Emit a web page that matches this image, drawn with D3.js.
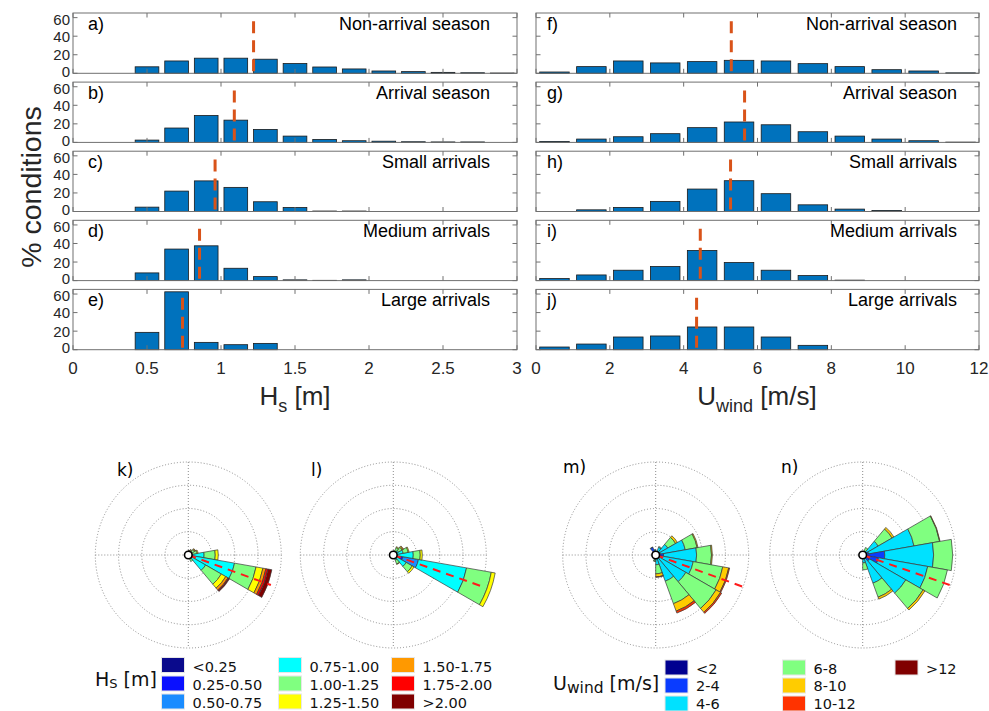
<!DOCTYPE html>
<html>
<head>
<meta charset="utf-8">
<script src="https://cdn.jsdelivr.net/npm/d3@7"></script>
<style>
  body { margin: 0; background: #fff; }
  svg { display: block; }
</style>
</head>
<body>
<div id="chart"></div>
<script>
// ---- histogram data (% conditions per bin) ----
const hsBins = [0.5, 0.7, 0.9, 1.1, 1.3, 1.5, 1.7, 1.9, 2.1, 2.3, 2.5, 2.7, 2.9];
const hsNonArrival = [7, 13.3, 16.3, 16.3, 15.2, 10.5, 6.8, 4.7, 2.5, 1.8, 1, 0.6, 0.3];
const hsArrival    = [2.5, 15.5, 29, 24, 14, 6.8, 3.2, 1.8, 1.3, 0.7, 0.5, 0.5, 0];
const hsSmall      = [4.7, 22, 33, 26, 10.5, 4.3, 0.5, 0.5, 0, 0, 0, 0, 0];
const hsMedium     = [8.3, 34, 37.5, 13.3, 4.3, 0.8, 0.3, 0.8, 0, 0, 0, 0, 0];
const hsLarge      = [18.7, 62.4, 7.9, 5.4, 6.8, 0, 0, 0, 0, 0, 0, 0, 0];
const hsMeans      = [1.22, 1.09, 0.96, 0.855, 0.74];

const uBins = [0.5, 1.5, 2.5, 3.5, 4.5, 5.5, 6.5, 7.5, 8.5, 9.5, 10.5, 11.5];
const uNonArrival = [1.4, 7.2, 13.3, 11.2, 12.6, 14, 13.3, 10.4, 7.2, 3.9, 2.5, 0.5];
const uArrival    = [1, 3.6, 6.1, 9.4, 15.9, 22, 19, 11.5, 6.8, 3.6, 1.8, 0.3];
const uSmall      = [0, 1.8, 4.4, 10.9, 24.2, 33.2, 19.2, 7.2, 2.6, 1.1, 0, 0];
const uMedium     = [2.2, 6.1, 11.2, 15.2, 32.5, 19.5, 11.2, 5.4, 0.5, 0, 0, 0];
const uLarge      = [2.9, 6.1, 13.7, 14.8, 24.5, 24.5, 13.7, 4.7, 0, 0, 0, 0];
const uMeans      = [5.29, 5.65, 5.27, 4.45, 4.35];

const hsLetters = ["a)", "b)", "c)", "d)", "e)"];
const uLetters  = ["f)", "g)", "h)", "i)", "j)"];
const panelTitles = ["Non-arrival season", "Arrival season", "Small arrivals", "Medium arrivals", "Large arrivals"];
const hsTicks = [0, 0.5, 1, 1.5, 2, 2.5, 3];
const uTicks  = [0, 2, 4, 6, 8, 10, 12];
const yTicks  = [0, 20, 40, 60];

// ---- wind rose data: direction (deg, counter-clockwise from east) and stacked bin frequencies (%) ----
const hsRoseLabels = ["<0.25", "0.25-0.50", "0.50-0.75", "0.75-1.00", "1.00-1.25", "1.25-1.50", "1.50-1.75", "1.75-2.00", ">2.00"];
const hsRoseColors = ["#0a0a8c", "#0a10ff", "#1a8cff", "#00ffff", "#80ff80", "#ffff00", "#ff9900", "#ff0000", "#800000"];
const uRoseLabels = ["<2", "2-4", "4-6", "6-8", "8-10", "10-12", ">12"];
const uRoseColors = ["#000090", "#0a3cff", "#00e1ff", "#80ff80", "#ffcc00", "#ff3300", "#800000"];

const kDirs = [0, -20, -40, 20, 40, 60, -60, 80, 100];
const kBins = [
  [0.1, 0.1, 0.1, 3.1, 2.4, 0.65, 0, 0, 0],
  [0.2, 0.2, 0.2, 9.5, 4.7, 1.5, 0.65, 0.45, 0.85],
  [0.1, 0.1, 0.2, 3.9, 3.9, 1.1, 0.55, 0.2, 0.2],
  [0, 0, 0.1, 0.75, 1.1, 0.2, 0, 0, 0],
  [0, 0, 0.1, 0.55, 0.85, 0.2, 0.1, 0, 0],
  [0, 0, 0.1, 0.4, 0.65, 0.1, 0, 0, 0],
  [0, 0, 0.1, 0.75, 0.65, 0, 0, 0, 0],
  [0, 0, 0.1, 0.3, 0.4, 0.1, 0.1, 0, 0],
  [0, 0, 0.1, 0.2, 0.3, 0, 0, 0, 0]
];
const lDirs = [-20, 0, 20, 40, 60, -40, -60, 80];
const lBins = [
  [0.4, 1.7, 3.4, 10.5, 5.4, 0.85, 0, 0, 0],
  [0.1, 0.1, 0.2, 3.9, 1.5, 0.45, 0, 0, 0],
  [0, 0.1, 0.1, 1.95, 1.1, 0.2, 0, 0, 0],
  [0, 0, 0.1, 1.2, 0.85, 0.2, 0.2, 0, 0],
  [0, 0, 0.1, 0.75, 0.85, 0.2, 0, 0, 0],
  [0.1, 0.1, 0.2, 2.8, 1.5, 0.45, 0, 0, 0],
  [0, 0, 0.1, 1.1, 0.85, 0.1, 0, 0, 0],
  [0, 0, 0.1, 0.3, 0.4, 0.1, 0, 0, 0]
];
const mDirs = [40, 20, 0, -20, -40, -60, -80, 60, 100, 120, -100];
const mBins = [
  [0.2, 0.65, 2.15, 1.95, 0.45, 0, 0],
  [0.2, 0.85, 5.4, 2.6, 0.2, 0, 0],
  [0.2, 1.5, 7.1, 3.2, 0.2, 0, 0],
  [0.2, 1.1, 6.9, 6.45, 1.3, 0.2, 0],
  [0.2, 0.85, 6.45, 7.5, 1.1, 0.3, 0],
  [0.2, 0.65, 5.15, 5.15, 1.7, 0.45, 0],
  [0.1, 0.3, 1.7, 1.95, 0.65, 0.1, 0],
  [0.2, 0.45, 1.1, 0.2, 0, 0, 0],
  [0.3, 0.6, 0.3, 0, 0, 0, 0],
  [0.45, 1.3, 0.1, 0, 0, 0, 0],
  [0.1, 0.3, 0.6, 0.3, 0.1, 0, 0]
];
const nDirs = [40, 20, 0, -20, -40, -60, -80, 60, 80];
const nBins = [
  [0.2, 0.65, 3, 3.45, 0.45, 0, 0],
  [0.2, 1.1, 9.9, 5.6, 0.1, 0, 0],
  [0.65, 4.1, 10.5, 4.1, 0, 0, 0],
  [0.45, 3, 10.75, 4.3, 0, 0, 0],
  [0.2, 1.5, 9, 4.3, 0.45, 0, 0],
  [0.2, 0.65, 5.6, 3.2, 0.45, 0, 0],
  [0.1, 0.3, 1.3, 1.5, 0, 0, 0],
  [0.1, 0.2, 0.55, 0.85, 0, 0, 0],
  [0.1, 0.2, 0.3, 0.2, 0, 0, 0]
];
const roseLetters = ["k)", "l)", "m)", "n)"];
const meanDirs = [-20, -19.5, -20, -19];
const meanLens = [18.9, 19.8, 20.9, 19.8];
const roseRings = [5, 10, 15, 20];

// ---- layout ----
const W = 989, H = 711;
const svg = d3.select("#chart").append("svg")
  .attr("width", W).attr("height", H)
  .attr("font-family", "'Liberation Sans', Arial, sans-serif");

const panelTop = [13, 82.1, 151.2, 220.3, 289.4];
const panelH = 60.3;
const frameColor = "#707070";
const textColor = "#262626";

function histColumn(x, bins, series, means, barW, letters, xTicks, showYLabels, titleRight) {
  series.forEach(function(vals, i) {
    const y = d3.scaleLinear().domain([0, 65]).range([panelTop[i] + panelH, panelTop[i]]);
    const g = svg.append("g");

    // bars
    g.selectAll("rect")
      .data(vals.map((v, j) => ({c: bins[j], v: v})).filter(d => d.v > 0))
      .enter().append("rect")
      .attr("x", d => x(d.c - barW / 2))
      .attr("width", d => x(d.c + barW / 2) - x(d.c - barW / 2))
      .attr("y", d => y(d.v))
      .attr("height", d => y(0) - y(d.v))
      .attr("fill", "#0072BD")
      .attr("stroke", "#1a1a1a")
      .attr("stroke-width", 0.8);

    // mean line
    g.append("line")
      .attr("x1", x(means[i])).attr("x2", x(means[i]))
      .attr("y1", y(56)).attr("y2", y(0))
      .attr("stroke", "#D95319").attr("stroke-width", 3)
      .attr("stroke-dasharray", "12,7");

    // frame and inside ticks
    const x0 = x.range()[0], x1 = x.range()[1];
    g.append("rect")
      .attr("x", x0).attr("y", y(65)).attr("width", x1 - x0).attr("height", y(0) - y(65))
      .attr("fill", "none").attr("stroke", frameColor).attr("stroke-width", 1);
    xTicks.forEach(function(t) {
      g.append("line").attr("x1", x(t)).attr("x2", x(t)).attr("y1", y(65)).attr("y2", y(65) + 4.5)
        .attr("stroke", frameColor);
      g.append("line").attr("x1", x(t)).attr("x2", x(t)).attr("y1", y(0)).attr("y2", y(0) - 4.5)
        .attr("stroke", frameColor);
    });
    yTicks.forEach(function(t) {
      g.append("line").attr("x1", x0).attr("x2", x0 + 4.5).attr("y1", y(t)).attr("y2", y(t))
        .attr("stroke", frameColor);
      g.append("line").attr("x1", x1).attr("x2", x1 - 4.5).attr("y1", y(t)).attr("y2", y(t))
        .attr("stroke", frameColor);
      if (showYLabels) {
        // bottom label sits a bit high, top label a bit low, as in the original
        const off = t === 0 ? 3.5 : (t === 60 ? 7 : 5.5);
        g.append("text").attr("x", x0 - 3).attr("y", y(t) + off)
          .attr("text-anchor", "end").attr("font-size", 15).attr("fill", textColor)
          .text(t);
      }
    });

    g.append("text").attr("x", x0 + (showYLabels ? 15 : 11)).attr("y", panelTop[i] + 17)
      .attr("font-size", 18).attr("fill", "#000").text(letters[i]);
    g.append("text").attr("x", x1 - titleRight).attr("y", panelTop[i] + 17)
      .attr("text-anchor", "end").attr("font-size", 18).attr("fill", "#000").text(panelTitles[i]);
  });

  // x tick labels
  xTicks.forEach(function(t) {
    svg.append("text").attr("x", x(t)).attr("y", 374)
      .attr("text-anchor", "middle").attr("font-size", 17).attr("fill", textColor)
      .text(t);
  });
}

const xHs = d3.scaleLinear().domain([0, 3]).range([73, 517]);
const xU = d3.scaleLinear().domain([0, 12]).range([536, 979]);

histColumn(xHs, hsBins, [hsNonArrival, hsArrival, hsSmall, hsMedium, hsLarge], hsMeans, 0.16, hsLetters, hsTicks, true, 27);
histColumn(xU, uBins, [uNonArrival, uArrival, uSmall, uMedium, uLarge], uMeans, 0.8, uLetters, uTicks, false, 22);

// axis titles
svg.append("text")
  .attr("transform", "translate(41,187) rotate(-90)")
  .attr("text-anchor", "middle").attr("font-size", 28.5).attr("fill", textColor)
  .text("% conditions");

const hsTitle = svg.append("text").attr("x", 295).attr("y", 405)
  .attr("text-anchor", "middle").attr("font-size", 26).attr("fill", textColor);
hsTitle.append("tspan").text("H");
hsTitle.append("tspan").attr("dy", 7).attr("font-size", 18).text("s");
hsTitle.append("tspan").attr("dy", -7).text(" [m]");

const uTitle = svg.append("text").attr("x", 757).attr("y", 405)
  .attr("text-anchor", "middle").attr("font-size", 26).attr("fill", textColor);
uTitle.append("tspan").text("U");
uTitle.append("tspan").attr("dy", 7).attr("font-size", 18).text("wind");
uTitle.append("tspan").attr("dy", -7).text(" [m/s]");

// ---- wind roses ----
const roseCenters = [[188.3, 555], [393.3, 555], [655.7, 555], [862.7, 555]];
const letterPos = [[117, 476], [311, 476], [563, 473], [781, 473]];
const r = d3.scaleLinear().domain([0, 20]).range([0, 93]);
const arc = d3.arc();
const rad = Math.PI / 180;

function rose(idx, dirs, bins, colors) {
  const cx = roseCenters[idx][0], cy = roseCenters[idx][1];
  const g = svg.append("g").attr("transform", "translate(" + cx + "," + cy + ")");
  const grid = g.append("g").attr("fill", "none").attr("stroke", "#8c8c8c")
    .attr("stroke-width", 1).attr("stroke-dasharray", "1,2");
  roseRings.forEach(v => grid.append("circle").attr("r", r(v)));
  const rm = r(roseRings[roseRings.length - 1]);
  grid.append("line").attr("x1", -rm).attr("x2", rm).attr("y1", 0).attr("y2", 0);
  grid.append("line").attr("y1", -rm).attr("y2", rm).attr("x1", 0).attr("x2", 0);

  dirs.forEach(function(dir, i) {
    let cum = 0;
    bins[i].forEach(function(v, b) {
      if (v <= 0) return;
      const a0 = (90 - dir - 10) * rad, a1 = (90 - dir + 10) * rad;
      g.append("path")
        .attr("d", arc({innerRadius: r(cum), outerRadius: r(cum + v), startAngle: a0, endAngle: a1}))
        .attr("fill", colors[b])
        .attr("stroke", "#3a3a3a").attr("stroke-width", 0.7);
      cum += v;
    });
  });

  const md = meanDirs[idx] * rad;
  g.append("line").attr("x1", 0).attr("y1", 0)
    .attr("x2", r(meanLens[idx]) * Math.cos(md)).attr("y2", -r(meanLens[idx]) * Math.sin(md))
    .attr("stroke", "#ff1a1a").attr("stroke-width", 2).attr("stroke-dasharray", "8,6");

  g.append("circle").attr("r", 3.8).attr("fill", "#fff").attr("stroke", "#000").attr("stroke-width", 1.6);

  svg.append("text").attr("x", letterPos[idx][0]).attr("y", letterPos[idx][1])
    .attr("font-family", "'DejaVu Sans', Verdana, sans-serif").attr("font-size", 17)
    .text(roseLetters[idx]);
}

rose(0, kDirs, kBins, hsRoseColors);
rose(1, lDirs, lBins, hsRoseColors);
rose(2, mDirs, mBins, uRoseColors);
rose(3, nDirs, nBins, uRoseColors);

// ---- legends ----
function legend(labels, colors, colX, rowY, textY) {
  const g = svg.append("g").attr("font-family", "'DejaVu Sans', Verdana, sans-serif").attr("font-size", 14.5);
  labels.forEach(function(lab, i) {
    const c = Math.floor(i / 3), rr = i % 3;
    g.append("rect").attr("x", colX[c]).attr("y", rowY[rr]).attr("width", 23).attr("height", 15)
      .attr("fill", colors[i]).attr("stroke", "#e6e6e6").attr("stroke-width", 1);
    g.append("text").attr("x", colX[c] + 31).attr("y", textY[rr]).attr("fill", "#111").text(lab);
  });
}
legend(hsRoseLabels, hsRoseColors, [161.5, 278.5, 391.5], [657.5, 676, 694], [672, 690, 708]);
legend(uRoseLabels, uRoseColors, [665, 782.5, 895], [660, 678, 696], [674, 691, 709]);

const hsLeg = svg.append("text").attr("x", 95).attr("y", 686)
  .attr("font-family", "'DejaVu Sans', Verdana, sans-serif").attr("font-size", 19).attr("fill", "#111");
hsLeg.append("tspan").text("H");
hsLeg.append("tspan").attr("dy", 2).attr("font-size", 13).text("S");
hsLeg.append("tspan").attr("dy", -2).text(" [m]");

const uLeg = svg.append("text").attr("x", 553).attr("y", 690)
  .attr("font-family", "'DejaVu Sans', Verdana, sans-serif").attr("font-size", 19).attr("fill", "#111");
uLeg.append("tspan").text("U");
uLeg.append("tspan").attr("dy", 3).attr("font-size", 15.5).text("wind");
uLeg.append("tspan").attr("dy", -3).text(" [m/s]");
</script>
</body>
</html>
